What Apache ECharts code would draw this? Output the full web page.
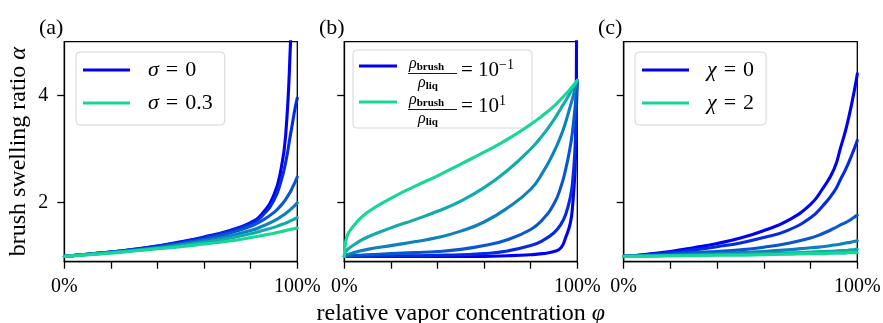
<!DOCTYPE html>
<html>
<head>
<meta charset="utf-8">
<script src="https://cdn.jsdelivr.net/npm/echarts@6/dist/echarts.min.js"></script>
<style>html,body{margin:0;padding:0;background:#fff}#c{width:883px;height:323px}</style>
</head>
<body>
<div id="c"></div>
<script>
// ---------- DATA ----------
const panelLabels = ['(a)', '(b)', '(c)'];
const xTickLabels = ['0%', '100%'];
const yTickValues = [2, 4];

// panel (a): varying sigma
const phiA = [0, 10, 20, 30, 40, 50, 60, 70, 80, 85, 90, 93, 95, 97, 98, 99, 100];
const alphaA1 = [1.00, 1.04, 1.08, 1.13, 1.19, 1.27, 1.36, 1.47, 1.63, 1.80, 2.15, 2.62, 3.25, 4.90, 6.5, 9.0, 12.0];
const alphaA2 = [1.00, 1.04, 1.08, 1.13, 1.19, 1.26, 1.35, 1.46, 1.61, 1.76, 2.05, 2.40, 2.75, 3.25, 3.50, 3.75, 3.95];
const alphaA3 = [1.00, 1.04, 1.08, 1.12, 1.17, 1.24, 1.32, 1.42, 1.56, 1.67, 1.82, 1.95, 2.06, 2.20, 2.29, 2.38, 2.48];
const alphaA4 = [1.00, 1.04, 1.07, 1.11, 1.16, 1.22, 1.29, 1.37, 1.48, 1.56, 1.66, 1.74, 1.80, 1.87, 1.91, 1.95, 2.00];
const alphaA5 = [1.00, 1.03, 1.07, 1.11, 1.15, 1.20, 1.26, 1.33, 1.42, 1.48, 1.54, 1.59, 1.62, 1.66, 1.68, 1.70, 1.72];
const alphaA6 = [1.00, 1.03, 1.06, 1.10, 1.14, 1.18, 1.23, 1.28, 1.35, 1.39, 1.43, 1.46, 1.48, 1.50, 1.51, 1.52, 1.53];
const namesA = ['σ = 0', 'a2', 'a3', 'a4', 'a5', 'σ = 0.3'];

// panel (b): varying density ratio
const phiB = [0, 0.5, 1, 2, 5, 10, 20, 30, 40, 50, 60, 70, 80, 85, 90, 93, 95, 97, 98, 99, 99.5, 100];
const alphaB1 = [1.00, 1.00, 1.00, 1.00, 1.00, 1.00, 1.00, 1.00, 1.00, 1.00, 1.00, 1.01, 1.03, 1.05, 1.09, 1.16, 1.35, 1.62, 1.95, 2.60, 3.50, 8.00];
const alphaB2 = [1.00, 1.00, 1.00, 1.00, 1.00, 1.00, 1.01, 1.01, 1.02, 1.03, 1.05, 1.10, 1.20, 1.29, 1.44, 1.60, 1.78, 2.10, 2.40, 3.00, 3.60, 4.28];
const alphaB3 = [1.00, 1.00, 1.01, 1.01, 1.02, 1.03, 1.05, 1.07, 1.09, 1.13, 1.20, 1.31, 1.50, 1.68, 1.98, 2.30, 2.62, 3.05, 3.35, 3.75, 4.00, 4.28];
const alphaB4 = [1.00, 1.02, 1.03, 1.04, 1.08, 1.13, 1.20, 1.27, 1.35, 1.47, 1.64, 1.90, 2.25, 2.55, 2.95, 3.25, 3.50, 3.80, 3.95, 4.12, 4.20, 4.28];
const alphaB5 = [1.00, 1.08, 1.11, 1.15, 1.24, 1.36, 1.53, 1.68, 1.84, 2.03, 2.28, 2.60, 3.00, 3.25, 3.55, 3.76, 3.90, 4.05, 4.13, 4.20, 4.24, 4.28];
const alphaB6 = [1.00, 1.25, 1.35, 1.45, 1.62, 1.82, 2.08, 2.30, 2.50, 2.72, 2.94, 3.18, 3.46, 3.62, 3.80, 3.93, 4.02, 4.12, 4.17, 4.22, 4.25, 4.28];
const namesB = ['rho1', 'b2', 'b3', 'b4', 'b5', 'rho2'];

// panel (c): varying chi
const phiC = [0, 10, 20, 30, 40, 50, 60, 70, 80, 85, 90, 93, 95, 97, 98, 99, 100];
const alphaC1 = [1.00, 1.04, 1.09, 1.16, 1.24, 1.34, 1.48, 1.66, 1.97, 2.25, 2.62, 3.05, 3.35, 3.72, 3.93, 4.15, 4.40];
const alphaC2 = [1.00, 1.03, 1.07, 1.12, 1.18, 1.25, 1.35, 1.48, 1.72, 1.93, 2.20, 2.45, 2.62, 2.82, 2.93, 3.04, 3.16];
const alphaC3 = [1.00, 1.02, 1.04, 1.07, 1.09, 1.12, 1.17, 1.24, 1.34, 1.42, 1.52, 1.59, 1.63, 1.68, 1.71, 1.74, 1.77];
const alphaC4 = [1.00, 1.01, 1.02, 1.04, 1.05, 1.07, 1.09, 1.12, 1.16, 1.18, 1.21, 1.23, 1.25, 1.26, 1.27, 1.28, 1.29];
const alphaC5 = [1.00, 1.01, 1.01, 1.02, 1.03, 1.04, 1.05, 1.06, 1.08, 1.09, 1.10, 1.11, 1.11, 1.12, 1.12, 1.13, 1.13];
const alphaC6 = [1.00, 1.00, 1.01, 1.01, 1.02, 1.02, 1.03, 1.04, 1.05, 1.05, 1.06, 1.06, 1.06, 1.07, 1.07, 1.07, 1.07];
const namesC = ['χ = 0', 'c2', 'c3', 'c4', 'c5', 'χ = 2'];

// ---------- STYLE ----------
const FONT = 'Liberation Serif';
const cStart = [0, 0, 245], cEnd = [22, 214, 152];
function curveColor(i, n) {
  const t = i / (n - 1);
  const c = cStart.map((v, k) => Math.round(v + (cEnd[k] - v) * t));
  return 'rgb(' + c.join(',') + ')';
}
const grids = [
  { left: 64.3, top: 41.7, width: 233, height: 220 },
  { left: 344.3, top: 41.7, width: 233, height: 220 },
  { left: 623.7, top: 41.7, width: 233.6, height: 220 }
];

const chart = echarts.init(document.getElementById('c'), null, { renderer: 'canvas' });

const panels = [
  { phi: phiA, curves: [alphaA1, alphaA2, alphaA3, alphaA4, alphaA5, alphaA6], names: namesA },
  { phi: phiB, curves: [alphaB1, alphaB2, alphaB3, alphaB4, alphaB5, alphaB6], names: namesB },
  { phi: phiC, curves: [alphaC1, alphaC2, alphaC3, alphaC4, alphaC5, alphaC6], names: namesC }
];

const series = [];
panels.forEach((p, gi) => {
  p.curves.forEach((arr, i) => {
    const col = curveColor(i, p.curves.length);
    series.push({
      type: 'line', name: p.names[i], xAxisIndex: gi, yAxisIndex: gi,
      data: p.phi.map((x, k) => [x, arr[k]]),
      symbol: 'none', smooth: 0.5, clip: true,
      lineStyle: { color: col, width: 3.1, cap: 'round', join: 'round' }, itemStyle: { color: col },
      silent: true, animation: false, z: 2 + i
    });
  });
});

const labelRich = {
  t: { fontFamily: FONT, fontSize: 24, color: '#000' },
  g: { fontFamily: FONT, fontSize: 24, fontStyle: 'italic', color: '#000' }
};

const xAxes = grids.map((g, gi) => ({
  type: 'value', gridIndex: gi, min: 0, max: 100, interval: 20,
  axisLine: { show: true, onZero: false, lineStyle: { color: '#000', width: 1.3 } },
  axisTick: { show: true, inside: false, length: 7, lineStyle: { color: '#000', width: 1.3 } },
  axisLabel: {
    show: true, margin: 15, fontFamily: FONT, fontSize: 20, color: '#000',
    showMinLabel: true, showMaxLabel: true, hideOverlap: false,
    formatter: v => (v === 0 ? xTickLabels[0] : (v === 100 ? xTickLabels[1] : ''))
  },
  splitLine: { show: false },
  name: gi === 1 ? '{t|relative vapor concentration }{g|φ}' : '',
  nameLocation: 'middle', nameGap: 33,
  nameTextStyle: { color: '#000', rich: labelRich }
}));

const yAxes = grids.map((g, gi) => ({
  type: 'value', gridIndex: gi, min: 0.9, max: 5,
  axisLine: { show: true, onZero: false, lineStyle: { color: '#000', width: 1.3 } },
  axisTick: { show: true, inside: false, length: 7, customValues: yTickValues, lineStyle: { color: '#000', width: 1.3 } },
  axisLabel: { show: gi === 0, customValues: yTickValues, margin: 16, fontFamily: FONT, fontSize: 20, color: '#000' },
  splitLine: { show: false },
  name: gi === 0 ? '{t|brush swelling ratio }{g|α}' : '',
  nameLocation: 'middle', nameGap: 34, nameRotate: 90,
  nameTextStyle: { color: '#000', rich: labelRich }
}));

const legendBase = {
  orient: 'vertical', icon: 'rect', selectedMode: false,
  backgroundColor: 'rgba(255,255,255,0.8)', borderColor: '#d6d6d6', borderWidth: 1, borderRadius: 4
};
function greekFmt(name) {
  const parts = name.split(' = ');
  return '{s|}{g|' + parts[0] + '}{e|=}{t|' + parts[1] + '}';
}
const legendRich = {
  s: { width: 13 },
  g: { fontFamily: FONT, fontSize: 22, fontStyle: 'italic', color: '#000', lineHeight: 20 },
  e: { fontFamily: FONT, fontSize: 22, color: '#000', lineHeight: 20, padding: [0, 7, 0, 7] },
  t: { fontFamily: FONT, fontSize: 22, color: '#000', lineHeight: 20 }
};
const legends = [
  Object.assign({}, legendBase, {
    left: 76, top: 52, itemWidth: 47, itemHeight: 3.2, itemGap: 11, padding: [7, 12, 11, 7],
    data: [namesA[0], namesA[5]], formatter: greekFmt, textStyle: { rich: legendRich }
  }),
  Object.assign({}, legendBase, {
    left: 353, top: 50, itemWidth: 38, itemHeight: 3.2, itemGap: 6, padding: [1, 4, 11, 6],
    data: [namesB[0], namesB[5]], formatter: () => '{w|}',
    textStyle: { fontSize: 30, lineHeight: 30, rich: { w: { width: 126, height: 30, lineHeight: 30 } } }
  }),
  Object.assign({}, legendBase, {
    left: 635, top: 52, itemWidth: 47, itemHeight: 3.2, itemGap: 11, padding: [7, 12, 11, 7],
    data: [namesC[0], namesC[5]], formatter: greekFmt, textStyle: { rich: legendRich }
  })
];

// fraction labels for legend (b)
const legendBExp = ['−1', '1'];
const fracRich = {
  r: { fontFamily: FONT, fontSize: 16, fontStyle: 'italic', color: '#000' },
  b: { fontFamily: FONT, fontSize: 11, fontWeight: 'bold', color: '#000', padding: [6, 0, 0, 0] },
  e: { fontFamily: FONT, fontSize: 21, color: '#000' },
  x: { fontFamily: FONT, fontSize: 14, color: '#000', padding: [0, 0, 11, 0] }
};
const graphics = [];
[66, 102].forEach((yc, i) => {
  graphics.push({ type: 'text', z: 100, left: 409, top: yc - 10, style: { text: '{r|ρ}{b|brush}', rich: fracRich } });
  graphics.push({ type: 'line', z: 100, shape: { x1: 408, y1: yc + 7.5, x2: 457, y2: yc + 7.5 }, style: { stroke: '#000', lineWidth: 0.9 } });
  graphics.push({ type: 'text', z: 100, left: 418, top: yc + 9, style: { text: '{r|ρ}{b|liq}', rich: fracRich } });
  graphics.push({ type: 'text', z: 100, left: 461, top: yc - 8, style: { text: '{e|= 10}{x|' + legendBExp[i] + '}', rich: fracRich } });
});

const titles = panelLabels.map((t, i) => ({
  text: t, left: [34, 314, 593][i], top: 12,
  textStyle: { fontFamily: FONT, fontSize: 22, fontWeight: 'normal', color: '#000' }
}));

chart.setOption({
  animation: false,
  backgroundColor: '#fff',
  title: titles,
  grid: grids.map(g => Object.assign({ show: true, borderColor: '#000', borderWidth: 1.3, containLabel: false, outerBoundsMode: 'none' }, g)),
  xAxis: xAxes,
  yAxis: yAxes,
  legend: legends,
  series: series,
  graphic: graphics
});
</script>
</body>
</html>
